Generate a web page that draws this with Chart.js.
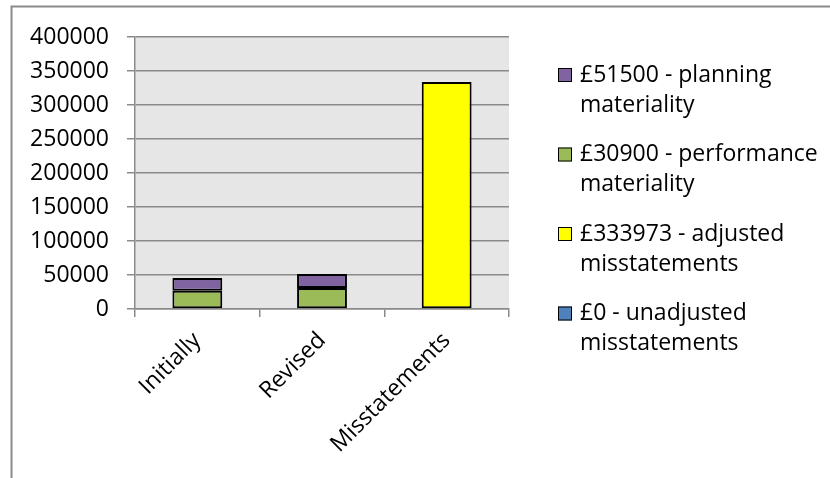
<!DOCTYPE html>
<html>
<head>
<meta charset="utf-8">
<script src="https://cdn.jsdelivr.net/npm/chart.js@4/dist/chart.umd.min.js"></script>
<style>
  body { margin: 0; background: #fff; }
  #wrap { width: 830px; height: 478px; }
</style>
</head>
<body>
<div id="wrap"><canvas id="chart" width="830" height="478"></canvas></div>
<script>
// categories and series (stack order: bottom first)
const categories = ['Initially', 'Revised', 'Misstatements'];
const unadjusted = [null, null, 0];
const adjusted = [null, null, 333973];
const performance = [27000, 30900, null];
const planning = [18500, 20600, null];

const seriesLabels = [
  ['£0 - unadjusted', 'misstatements'],
  ['£333973 - adjusted', 'misstatements'],
  ['£30900 - performance', 'materiality'],
  ['£51500 - planning', 'materiality']
];
const seriesColors = ['#4f81bd', '#ffff00', '#9bbb59', '#8064a2'];
const yTicks = { min: 0, max: 400000, step: 50000 };

const FONT = '"Open Sans", sans-serif';

// grey plot background + outer frame + legend drawn on the canvas
const decor = {
  id: 'decor',
  beforeDraw(chart) {
    const { ctx, chartArea: a } = chart;
    ctx.save();
    ctx.fillStyle = '#e6e6e6';
    ctx.fillRect(a.left, a.top, a.right - a.left, a.bottom - a.top);
    // frame
    ctx.strokeStyle = '#8a8a8a';
    ctx.lineWidth = 2;
    ctx.beginPath();
    ctx.moveTo(11.5, 478);
    ctx.lineTo(11.5, 6.5);
    ctx.lineTo(830, 6.5);
    ctx.stroke();
    ctx.restore();
  },
  afterDraw(chart) {
    const ctx = chart.ctx;
    const ds = chart.data.datasets;
    ctx.save();
    ctx.font = '23px ' + FONT;
    ctx.textBaseline = 'middle';
    ctx.fillStyle = '#000';
    let y = 75;
    // legend is listed top-down in reverse of stacking order
    for (let i = ds.length - 1; i >= 0; i--) {
      ctx.fillStyle = ds[i].backgroundColor;
      ctx.fillRect(558, y - 7, 14, 14);
      ctx.strokeStyle = '#000';
      ctx.lineWidth = 1;
      ctx.strokeRect(558.5, y - 6.5, 13, 13);
      ctx.fillStyle = '#000';
      ctx.fillText(ds[i].label[0], 580, y);
      ctx.fillText(ds[i].label[1], 580, y + 30);
      y += 79.5;
    }
    ctx.restore();
  }
};

const datasets = [unadjusted, adjusted, performance, planning].map((d, i) => ({
  label: seriesLabels[i],
  data: d,
  backgroundColor: seriesColors[i],
  borderColor: '#000',
  borderWidth: 2,
  borderSkipped: false,
  categoryPercentage: 1,
  barPercentage: 0.4
}));

new Chart(document.getElementById('chart'), {
  type: 'bar',
  data: { labels: categories, datasets: datasets },
  options: {
    responsive: false,
    devicePixelRatio: 1,
    animation: false,
    events: [],
    layout: { padding: { left: 0, top: 37, right: 321, bottom: 0 } },
    plugins: { legend: { display: false }, tooltip: { enabled: false } },
    scales: {
      x: {
        stacked: true,
        grid: { offset: true, drawOnChartArea: false, drawTicks: true, tickLength: 8, color: '#8a8a8a', lineWidth: 1.5 },
        border: { color: '#8a8a8a', width: 1.5 },
        ticks: { color: '#000', font: { family: FONT, size: 23 }, minRotation: 45, maxRotation: 45, padding: 10 },
        afterFit(scale) { scale.height = 169; }
      },
      y: {
        stacked: true,
        min: yTicks.min,
        max: yTicks.max,
        grid: { color: '#8a8a8a', lineWidth: 1.5, tickLength: 8 },
        border: { color: '#8a8a8a', width: 1.5 },
        ticks: {
          stepSize: yTicks.step,
          color: '#000',
          padding: 18,
          font: { family: FONT, size: 23 },
          callback: v => String(v)
        },
        afterFit(scale) { scale.width = 135; }
      }
    }
  },
  plugins: [decor]
});
</script>
</body>
</html>
